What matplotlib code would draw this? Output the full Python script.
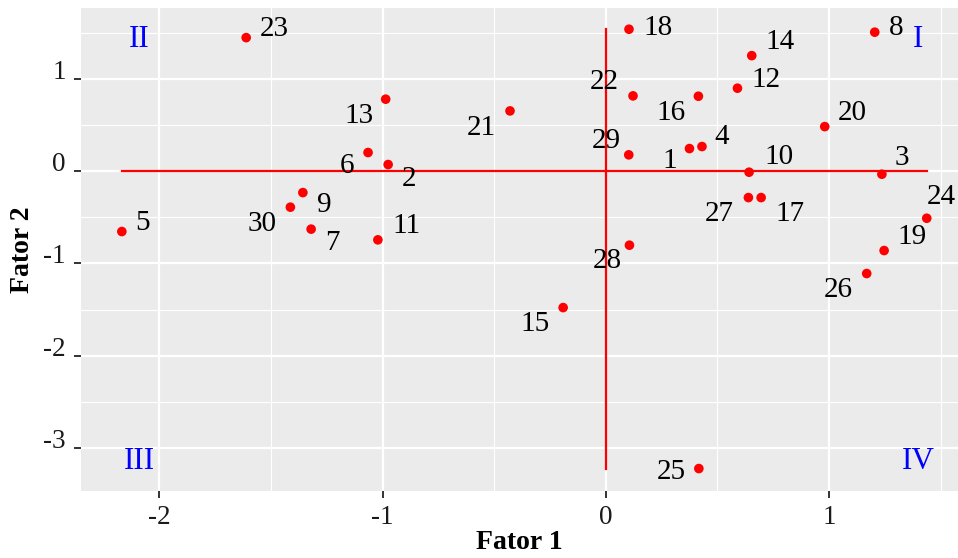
import matplotlib
matplotlib.use("Agg")
import matplotlib.pyplot as plt
from matplotlib.ticker import MultipleLocator, FuncFormatter

plt.rcParams['font.family'] = ['Liberation Serif', 'DejaVu Serif']

# Data
labels = ["1", "2", "3", "4", "5", "6", "7", "8", "9", "10",
          "11", "12", "13", "14", "15", "16", "17", "18", "19", "20",
          "21", "22", "23", "24", "25", "26", "27", "28", "29", "30"]
fator1 = [0.375, -0.975, 1.237, 0.431, -2.168, -1.065, -1.320, 1.205, -1.357, 0.642,
          -1.021, 0.590, -0.986, 0.654, -0.191, 0.415, 0.696, 0.104, 1.247, 0.981,
          -0.429, 0.122, -1.611, 1.438, 0.417, 1.169, 0.639, 0.106, 0.103, -1.413]
fator2 = [0.245, 0.072, -0.033, 0.267, -0.654, 0.202, -0.628, 1.506, -0.232, -0.011,
          -0.744, 0.899, 0.780, 1.252, -1.478, 0.812, -0.286, 1.538, -0.860, 0.483,
          0.653, 0.816, 1.447, -0.510, -3.222, -1.109, -0.286, -0.802, 0.177, -0.390]
quadrants = ["I", "II", "III", "IV"]

# label offsets in pixels (dx right, dy down) -- layout only
offsets = {
    "1": (-20, 12), "2": (21, 14), "3": (20, -16), "4": (20, -10), "5": (21, -9),
    "6": (-21, 13), "7": (21, 14), "8": (21, -4), "9": (21, 12), "10": (30, -15),
    "11": (29, -14), "12": (29, -8), "13": (-27, 17), "14": (28, -14), "15": (-28, 16),
    "16": (-27, 17), "17": (29, 16), "18": (29, -1), "19": (28, -14), "20": (28, -14),
    "21": (-29, 17), "22": (-29, -14), "23": (28, -9), "24": (15, -21), "25": (-28, 3),
    "26": (-28, 16), "27": (-29, 16), "28": (-22, 16), "29": (-22, -14), "30": (-28, 17),
}

fig = plt.figure(figsize=(9.58, 5.58), dpi=100)
ax = fig.add_axes([81/958, 1 - 490.7/558, 1 - 81/958, (490.7 - 8)/558])
ax.set_facecolor('#EBEBEB')
for s in ax.spines.values():
    s.set_visible(False)

ax.set_xlim(-2.351, 1.578)
ax.set_ylim(-3.462, 1.768)
ax.xaxis.set_major_locator(MultipleLocator(1))
ax.yaxis.set_major_locator(MultipleLocator(1))
ax.xaxis.set_minor_locator(MultipleLocator(0.5))
ax.yaxis.set_minor_locator(MultipleLocator(0.5))
ax.grid(which='major', color='white', linewidth=1.6)
ax.grid(which='minor', color='white', linewidth=0.8)
ax.set_axisbelow(True)
ax.tick_params(which='minor', length=0)
ax.tick_params(which='major', length=5, width=1.4, color='#333333',
               labelsize=19.5, labelcolor='#1a1a1a')
ax.tick_params(axis='x', pad=5)
ax.tick_params(axis='y', pad=6)
ax.xaxis.set_major_formatter(FuncFormatter(lambda v, p: f"{v:g}"))
ax.yaxis.set_major_formatter(FuncFormatter(lambda v, p: f"{v:g}"))

# reference lines spanning the data range
ax.plot([min(fator1), max(fator1)], [0, 0], color='red', linewidth=1.6, zorder=2)
ax.plot([0, 0], [min(fator2), max(fator2)], color='red', linewidth=1.6, zorder=2)

ax.scatter(fator1, fator2, s=48, color='red', edgecolors='none', zorder=3)

for lab, x, y in zip(labels, fator1, fator2):
    dx, dy = offsets[lab]
    ax.annotate(lab, (x, y), xytext=(dx, -dy), textcoords='offset pixels',
                ha='center', va='center', fontsize=21, color='black', zorder=4)

qpos = {"I": (1.40, 1.43), "II": (-2.09, 1.43), "III": (-2.09, -3.15), "IV": (1.40, -3.15)}
for q in quadrants:
    ax.text(*qpos[q], q, color='blue', fontsize=22.5, ha='center', va='center')

ax.set_xlabel('Fator 1', fontsize=20, fontweight='bold', labelpad=0)
ax.set_ylabel('Fator 2', fontsize=20, fontweight='bold', labelpad=6)

fig.canvas.draw()
for t in ax.get_yticklabels():
    t.set_verticalalignment('baseline')

fig.savefig('out.png', dpi=100)
